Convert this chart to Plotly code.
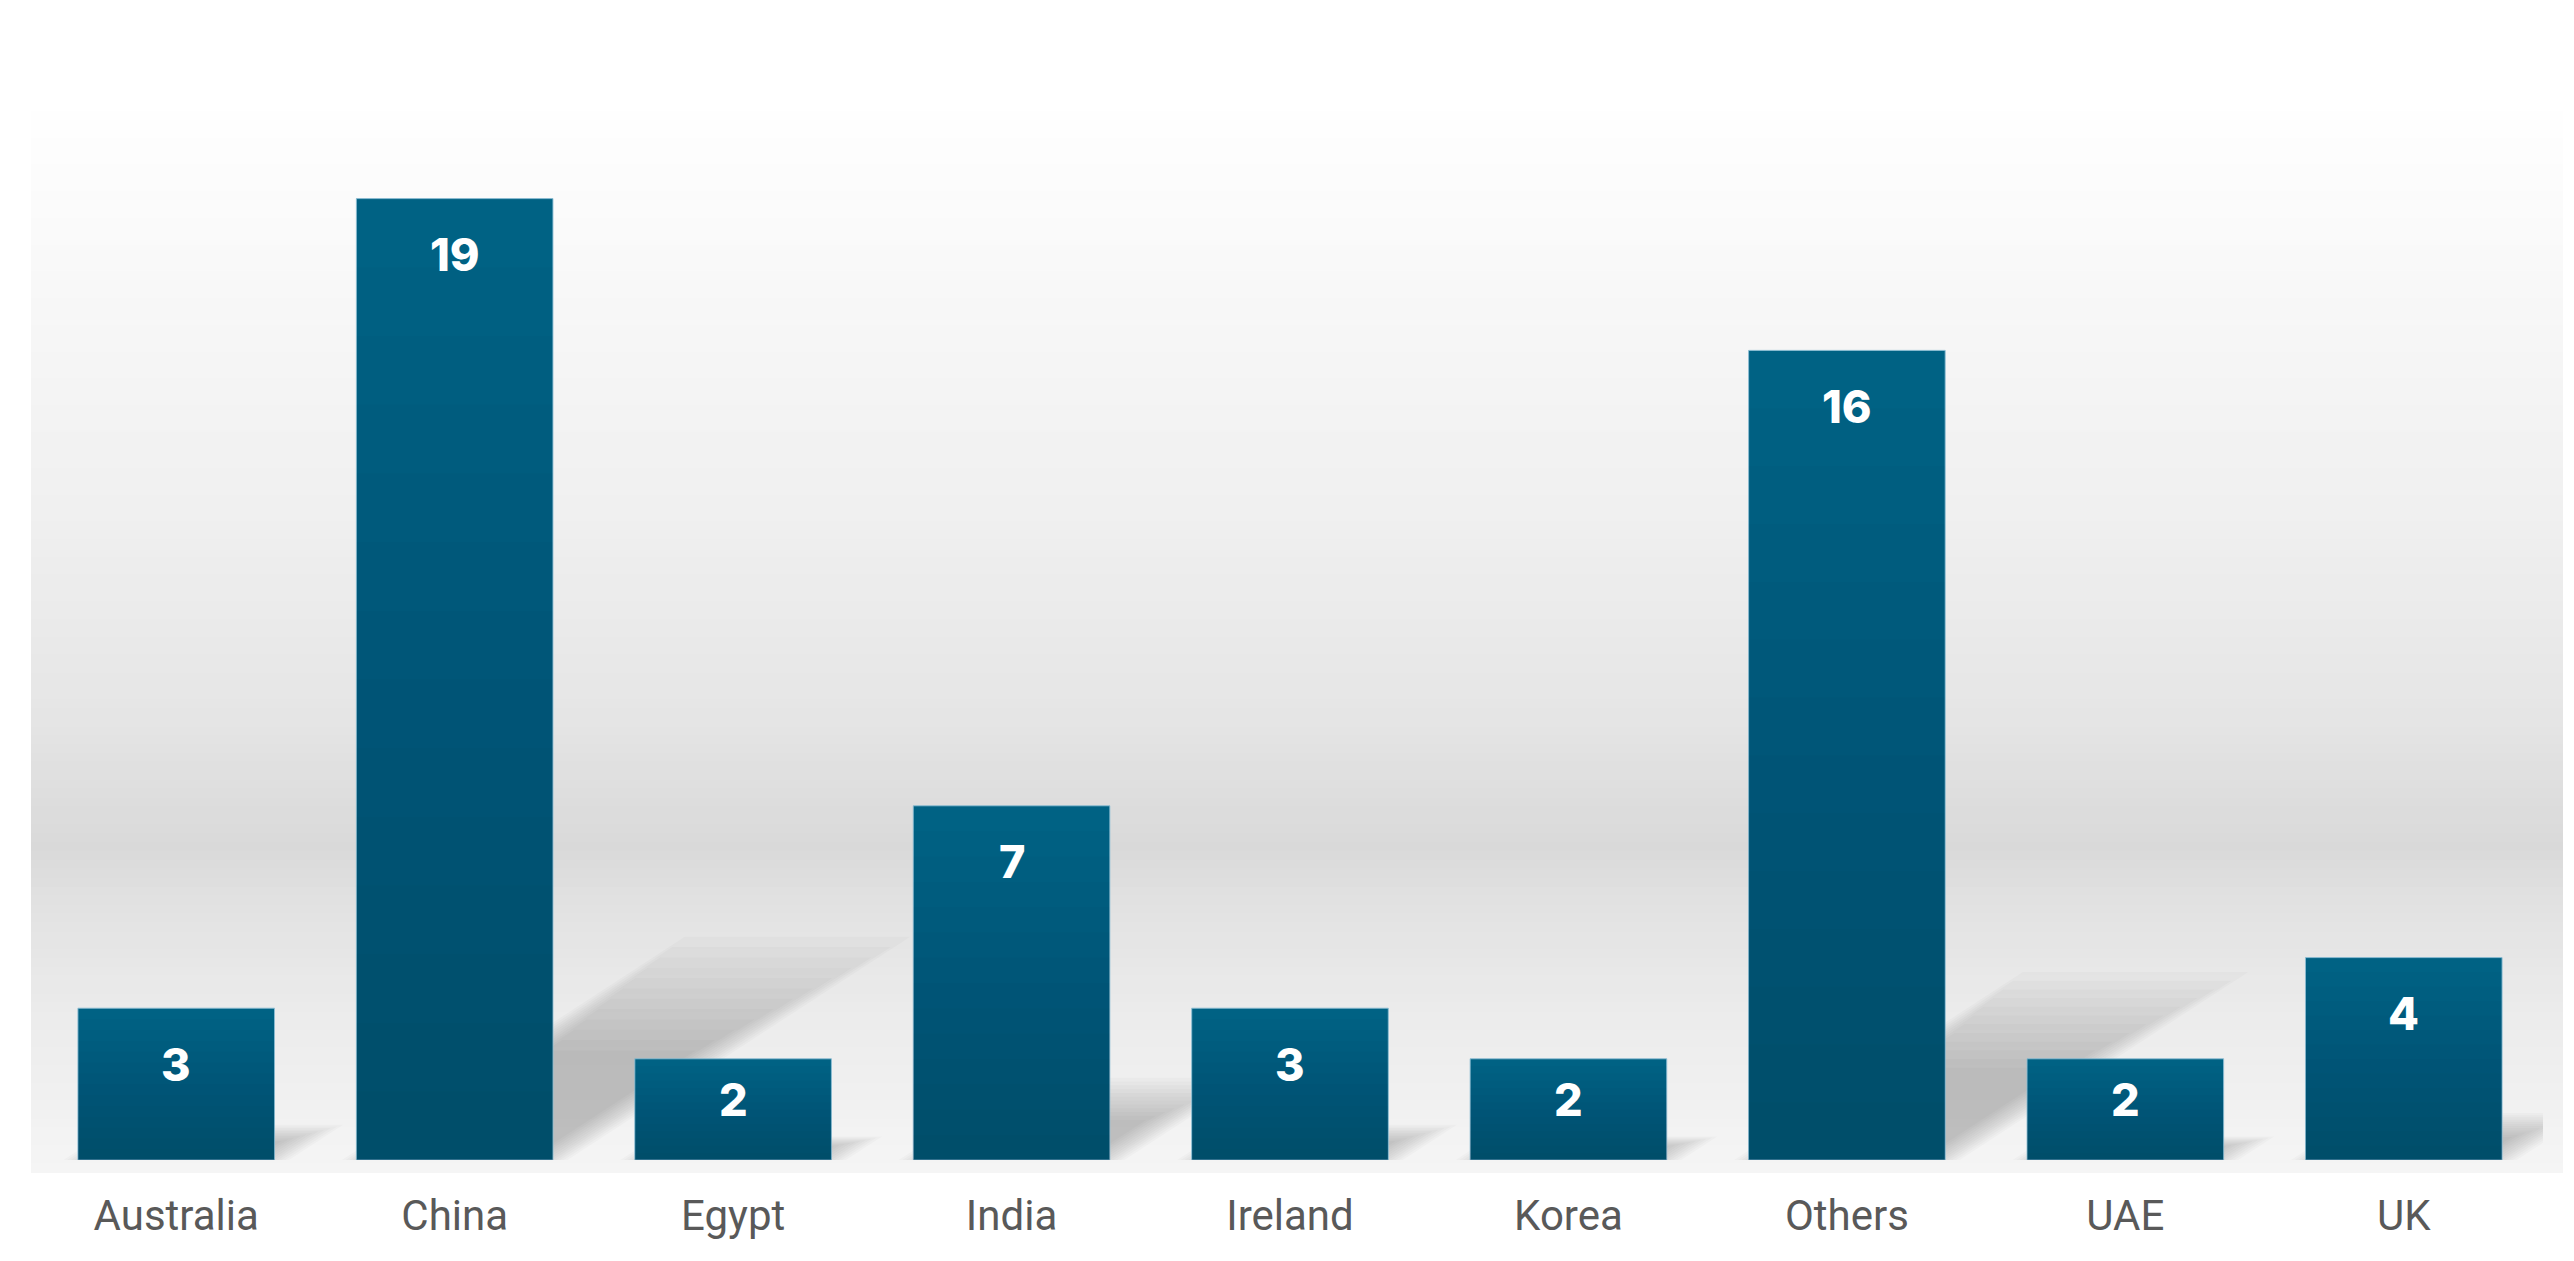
import plotly.graph_objects as go

# data
countries = ['Australia', 'China', 'Egypt', 'India', 'Ireland', 'Korea', 'Others', 'UAE', 'UK']
counts = [3, 19, 2, 7, 3, 2, 16, 2, 4]

W, H = 2574, 1261
M_L, M_R, M_T, M_B = 29, 39, 140, 109
Y_MAX = 20
BARGAP = 0.294
px_per_unit = (H - M_T - M_B) / Y_MAX

BAR_TOP = '#006284'
EDGE_COLOR = 'rgba(140,190,212,0.9)'
TICK_COLOR = '#595959'

xpos = list(range(len(countries)))

fig = go.Figure()
fig.add_trace(go.Bar(
    x=xpos, y=counts, customdata=countries,
    marker=dict(color=BAR_TOP, line=dict(color=EDGE_COLOR, width=1)),
    hovertemplate='%{customdata}: %{y}<extra></extra>', showlegend=False,
))

# darker towards the base: thin translucent overlays of the same bars
n_shade = 14
for k in range(1, n_shade):
    frac = k / n_shade
    fig.add_trace(go.Bar(
        x=xpos, y=[v * frac for v in counts],
        marker=dict(color='rgba(0,20,30,0.013)', line=dict(width=0)),
        hoverinfo='skip', showlegend=False,
    ))

# value labels near the top of each bar
for i, v in zip(xpos, counts):
    shift = min(56, 0.4 * v * px_per_unit)
    fig.add_annotation(
        x=i, y=v, text=str(v), showarrow=False, yshift=-shift,
        font=dict(family='Inter, Open Sans, sans-serif', size=45, color='white', weight=800),
    )

# soft grey background band (vertical gradient), stops as (pixel y, grey level)
stops = [(95, 255), (300, 247), (500, 240), (700, 230), (840, 217),
         (900, 226), (1000, 235), (1100, 241), (1165, 245)]
plot_h = H - M_T - M_B
plot_w = W - M_L - M_R
gx0 = (23 - M_L) / plot_w
gx1 = (2555 - M_L) / plot_w
n_bands = 120
y_top, y_bot = stops[0][0], stops[-1][0]
for k in range(n_bands):
    a = y_top + (y_bot - y_top) * k / n_bands
    b = y_top + (y_bot - y_top) * (k + 1) / n_bands
    mid = (a + b) / 2
    for (p0, g0), (p1, g1) in zip(stops[:-1], stops[1:]):
        if p0 <= mid <= p1:
            g = g0 + (g1 - g0) * (mid - p0) / (p1 - p0)
            break
    g = int(round(g))
    fig.add_shape(
        type='rect', xref='paper', yref='paper', layer='below',
        x0=gx0, x1=gx1,
        y0=(H - M_B - b) / plot_h, y1=(H - M_B - a) / plot_h + 0.001,
        fillcolor=f'rgb({g},{g},{g})', line=dict(width=0),
    )

# cast shadows behind the bars (soft: many faint layers)
half = (1 - BARGAP) / 2
for i, v in zip(xpos, counts):
    dy = 0.215 * v
    dx = 0.060 * v
    for k in range(12):
        s = 0.013 * (k - 4)
        top = dy * (1.08 - 0.05 * k)
        sx = dx * top / dy
        x0, x1 = i - half + s, i + half - s
        path = f'M {x0},0 L {x1},0 L {x1 + sx},{top} L {x0 + sx},{top} Z'
        fig.add_shape(type='path', path=path, xref='x', yref='y', layer='below',
                      fillcolor='rgba(60,60,60,0.026)', line=dict(width=0))

fig.update_layout(
    width=W, height=H,
    margin=dict(l=M_L, r=M_R, t=M_T, b=M_B),
    paper_bgcolor='white', plot_bgcolor='rgba(0,0,0,0)',
    barmode='overlay', bargap=BARGAP,
    font=dict(family='Roboto, Arial, sans-serif'),
)
fig.update_xaxes(
    range=[-0.5, len(countries) - 0.5],
    tickmode='array', tickvals=xpos, ticktext=countries,
    showgrid=False, zeroline=False, showline=False,
    ticks='outside', ticklen=19, tickcolor='rgba(0,0,0,0)',
    tickfont=dict(family='Roboto, Arial, sans-serif', size=42, color=TICK_COLOR),
)
fig.update_yaxes(range=[0, Y_MAX], visible=False, showgrid=False, zeroline=False)

fig.write_html('out.html')
